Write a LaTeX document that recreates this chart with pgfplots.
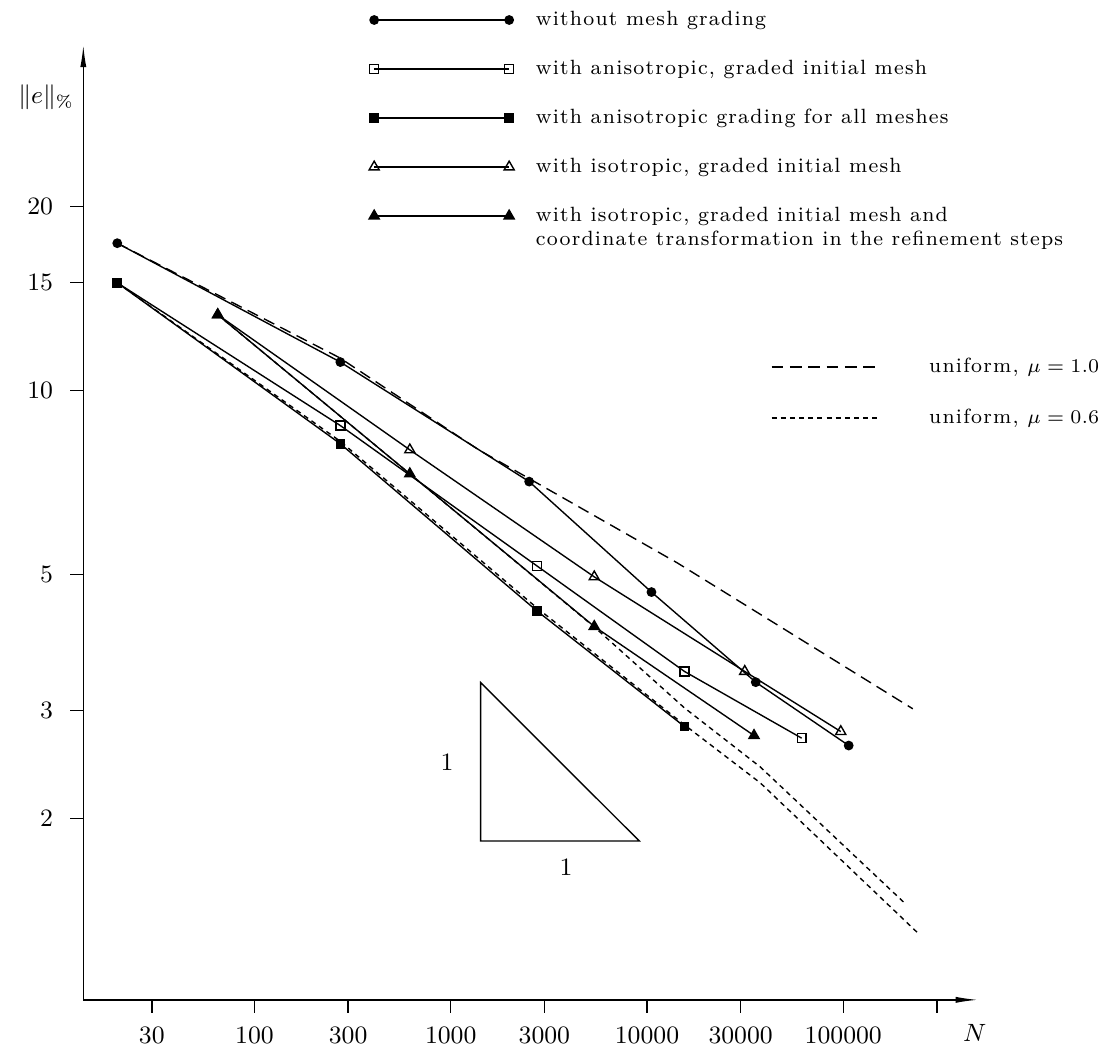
\documentclass[border=0pt]{standalone}
\usepackage{fontspec}
\usepackage{pgfplots}
\usepackage{pgfplotstable}
\pgfplotsset{compat=1.18}
\usetikzlibrary{arrows.meta}
\newfontfamily\legfont{lmroman8-regular.otf}[LetterSpace=6]

\pgfplotstableread{
x y
20 17.41
274 11.13
2510 7.10
10540 4.685
35830 3.338
106600 2.63
}\circdata
\pgfplotstableread{
x y
20 15.0
274 8.765
2748 5.171
15520 3.476
61400 2.704
}\osqdata
\pgfplotstableread{
x y
20 15.0
274 8.184
2748 4.365
15520 2.825
}\fsqdata
\pgfplotstableread{
x y
65 13.3
619 8.0
5387 4.961
31490 3.476
97140 2.772
}\otridata
\pgfplotstableread{
x y
65 13.3
619 7.31
5387 4.116
35110 2.731
}\ftridata
\pgfplotstableread{
x y
20 17.41
272 11.31
1389 8.0
14250 5.23
226100 3.02
}\muonedata
\pgfplotstableread{
x y
65 13.3
619 7.31
5387 4.11
15520 3.03
37740 2.427
204600 1.456
}\musixAdata
\pgfplotstableread{
x y
20 15.0
272 8.275
2748 4.415
15520 2.843
37740 2.286
239400 1.30
}\musixBdata

\begin{document}
\begin{tikzpicture}
\useasboundingbox (-30pt,-17.28pt) rectangle (369.3pt,360pt);

% uniform refinement curves
\begin{axis}[
  scale only axis, width=322.09pt, height=343.8pt,
  xmode=log, ymode=log,
  xmin=13.43, xmax=485300, ymin=1.0102, ymax=36.7,
  clip=false, hide axis,
  legend image code/.code={\draw[#1] (0pt,0pt) -- (39.2pt,0pt);},
  legend style={draw=none, fill=none, inner sep=0pt, outer sep=0pt,
    at={(0.7686,0.6745)}, anchor=north west,
    row sep=10.36pt, column sep=17.3pt,
    nodes={inner sep=0pt, text height=6pt, text depth=2pt},
    font=\legfont\fontsize{7.42}{8.64}\selectfont},
  legend cell align=left,
]
\addplot[black, line width=0.5pt, dash pattern=on 4.2pt off 2.4pt] table {\muonedata};
\addlegendentry{uniform, $\mu = 1.0$}
\addplot[black, line width=0.5pt, dash pattern=on 1.8pt off 1.5pt] table {\musixAdata};
\addlegendentry{uniform, $\mu = 0.6$}
\addplot[black, line width=0.5pt, dash pattern=on 1.8pt off 1.5pt, forget plot] table {\musixBdata};
\end{axis}

\begin{axis}[
  scale only axis, width=322.09pt, height=343.8pt,
  xmode=log, ymode=log,
  xmin=13.43, xmax=485300, ymin=1.0102, ymax=36.7,
  clip=false,
  axis lines=left,
  axis line style={line width=0.5pt, -{Latex[length=8pt,width=2.2pt]}},
  tick align=outside, major tick length=4.7pt,
  tick style={line width=0.5pt, black},
  xtick={30,100,300,1000,3000,10000,30000,100000,300000},
  xticklabels={30,100,300,1000,3000,10000,30000,100000,{}},
  ytick={2,3,5,10,15,20}, yticklabels={2,3,5,10,15,20},
  xminorticks=false, yminorticks=false,
  tick label style={font=\fontsize{9}{10}\selectfont},
  xticklabel shift=1.6pt, yticklabel shift=2.7pt,
  xlabel={$N$}, ylabel={$\|e\|_{\%}$},
  every axis x label/.style={at={(axis description cs:1,0)}, anchor=center, yshift=-11.9pt, xshift=-1.1pt, font=\fontsize{9}{10}\selectfont},
  every axis y label/.style={at={(axis description cs:0,0.9456)}, anchor=center, xshift=-13.4pt, font=\fontsize{9}{10}\selectfont},
  legend image code/.code={\draw[#1, mark repeat=1, mark phase=1] plot coordinates {(0pt,0pt) (48.6pt,0pt)};},
  legend style={draw=none, fill=none, inner sep=0pt, outer sep=0pt,
    at={(0.3195,1.0378)}, anchor=north west,
    row sep=9.64pt, column sep=7.8pt,
    nodes={inner sep=0pt, text height=6pt, text depth=2pt},
    font=\legfont\fontsize{7.42}{8.64}\selectfont},
  legend cell align=left,
]
\addplot[black, line width=0.5pt, mark=*, mark size=1.5pt] table {\circdata};
\addlegendentry{without mesh grading}
\addplot[black, line width=0.5pt, mark=square, mark size=1.6pt, mark options={fill=white}] table {\osqdata};
\addlegendentry{with anisotropic, graded initial mesh}
\addplot[black, line width=0.5pt, mark=square*, mark size=1.5pt] table {\fsqdata};
\addlegendentry{with anisotropic grading for all meshes}
\addplot[black, line width=0.5pt, mark=triangle, mark size=2.1pt, mark options={fill=white}] table {\otridata};
\addlegendentry{with isotropic, graded initial mesh}
\addplot[black, line width=0.5pt, mark=triangle*, mark size=2.1pt] table {\ftridata};
\addlegendentry{\begin{tabular}[t]{@{}l@{}}with isotropic, graded initial mesh and\\coordinate transformation in the refinement steps\end{tabular}}

\draw[line width=0.5pt] (axis cs:1421,3.333) -- (axis cs:1421,1.837) -- (axis cs:9131,1.837) -- cycle;
\node[font=\fontsize{9}{10}\selectfont] at (axis cs:957,2.465) {$1$};
\node[font=\fontsize{9}{10}\selectfont] at (axis cs:3865,1.66) {$1$};
\end{axis}
\end{tikzpicture}
\end{document}
